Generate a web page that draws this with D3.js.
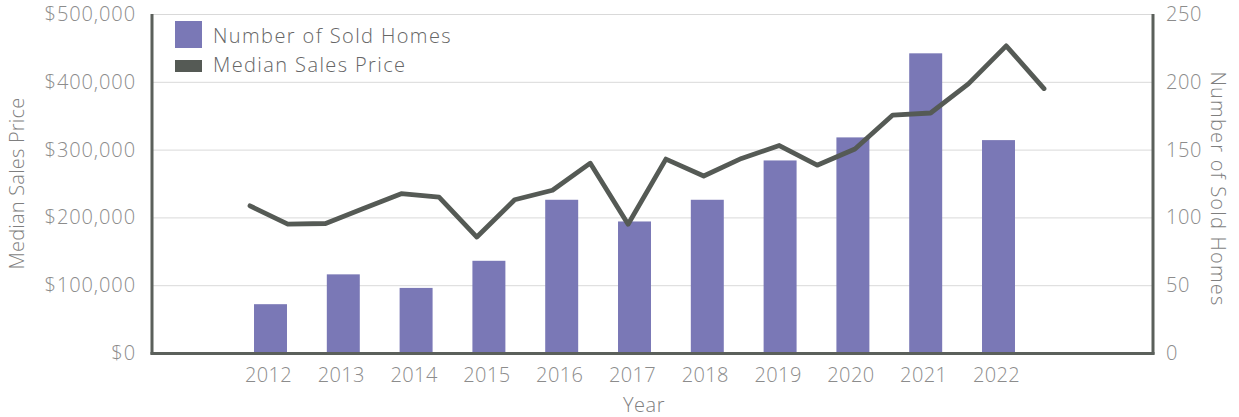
<!DOCTYPE html>
<html>
<head>
<meta charset="utf-8">
<script src="https://cdn.jsdelivr.net/npm/d3@7"></script>
<style>
  html, body { margin: 0; padding: 0; background: #fff; }
  svg { display: block; font-family: "Open Sans", "Lato", sans-serif; font-weight: 300; }
</style>
</head>
<body>
<svg id="chart" width="1239" height="417"></svg>
<script>
// ---- data ----
const years = ["2012","2013","2014","2015","2016","2017","2018","2019","2020","2021","2022"];
const soldHomes = [36, 58, 48, 68, 113, 97, 113, 142, 159, 221, 157];
const periods = ["2012 H1","2012 H2","2013 H1","2013 H2","2014 H1","2014 H2","2015 H1","2015 H2",
  "2016 H1","2016 H2","2017 H1","2017 H2","2018 H1","2018 H2","2019 H1","2019 H2",
  "2020 H1","2020 H2","2021 H1","2021 H2","2022 H1","2022 H2"];
const medianPrice = [217000, 190000, 191000, 213000, 235000, 230000, 171000, 226000,
  240000, 280000, 190000, 286000, 261000, 287000, 306000, 277000,
  301000, 351000, 354000, 397000, 453000, 390000];
const priceTicks = [0, 100000, 200000, 300000, 400000, 500000];
const homesTicks = [0, 50, 100, 150, 200, 250];
const legendLabels = ["Number of Sold Homes", "Median Sales Price"];

// ---- layout ----
const L = 152, R = 1153, T = 14, B = 353;
const barColor = "#7a78b6", lineColor = "#555a55", axisColor = "#5b605b";
const svg = d3.select("#chart");

const yL = d3.scaleLinear().domain([0, 500000]).range([B, T]);
const yR = d3.scaleLinear().domain([0, 250]).range([B, T]);
const xBar = d3.scaleBand().domain(years).range([234.1, 1034.9]).paddingInner(0.547).paddingOuter(0.2735);
const xLine = d3.scalePoint().domain(periods).range([250, 1044]);

// gridlines
svg.append("g").selectAll("line").data(priceTicks.slice(1)).join("line")
  .attr("x1", L).attr("x2", R)
  .attr("y1", d => yL(d) + 0.5).attr("y2", d => yL(d) + 0.5)
  .attr("stroke", "#d9d9d9").attr("stroke-width", 1);

// bars
svg.append("g").selectAll("rect").data(years).join("rect")
  .attr("x", d => xBar(d))
  .attr("width", xBar.bandwidth())
  .attr("y", (d, i) => yR(soldHomes[i]))
  .attr("height", (d, i) => B - yR(soldHomes[i]))
  .attr("fill", barColor);

// line
const line = d3.line().x((d, i) => xLine(periods[i])).y(d => yL(d));
svg.append("path").datum(medianPrice)
  .attr("d", line).attr("fill", "none")
  .attr("stroke", lineColor).attr("stroke-width", 4.8)
  .attr("stroke-linejoin", "round").attr("stroke-linecap", "round");

// axes
const fmt = d3.format("$,");
const leftAxis = d3.axisLeft(yL).tickValues(priceTicks).tickFormat(fmt).tickSize(0).tickPadding(15);
const rightAxis = d3.axisRight(yR).tickValues(homesTicks).tickSize(0).tickPadding(12);
const bottomAxis = d3.axisBottom(xBar).tickSize(0).tickPadding(14);

function styleAxis(ls) {
  return g => {
    g.select(".domain").remove();
    g.selectAll("text").attr("fill", "#8c8c8c").style("font-size", "20px")
      .style("letter-spacing", ls + "px")
      .style("font-family", '"Open Sans", "Lato", sans-serif').style("font-weight", 300);
  };
}
svg.append("g").attr("transform", `translate(${L - 1},0)`).call(leftAxis).call(styleAxis(0.9));
svg.append("g").attr("transform", `translate(${R + 1},0)`).call(rightAxis).call(styleAxis(0.6));
svg.append("g").attr("transform", `translate(-2,${B + 1})`).call(bottomAxis).call(styleAxis(0.4));

// axis lines
svg.append("line").attr("x1", L).attr("x2", L).attr("y1", T).attr("y2", B + 1.5)
  .attr("stroke", axisColor).attr("stroke-width", 3);
svg.append("line").attr("x1", R).attr("x2", R).attr("y1", T).attr("y2", B + 1.5)
  .attr("stroke", axisColor).attr("stroke-width", 3);
svg.append("line").attr("x1", L - 1.5).attr("x2", R + 1.5).attr("y1", B + 0.5).attr("y2", B + 0.5)
  .attr("stroke", axisColor).attr("stroke-width", 3);

// axis titles
const titleStyle = ls => s => s.attr("fill", "#7f7f7f").style("font-size", "20px")
  .style("letter-spacing", ls + "px").attr("text-anchor", "middle");
svg.append("text").attr("transform", `translate(24,${(T + B) / 2}) rotate(-90)`)
  .text("Median Sales Price").call(titleStyle(0.2));
svg.append("text").attr("transform", `translate(1211,189) rotate(90)`)
  .text("Number of Sold Homes").call(titleStyle(1.2));
svg.append("text").attr("x", 644).attr("y", 412).text("Year").call(titleStyle(0.5));

// legend
const lg = svg.append("g");
lg.append("rect").attr("x", 175).attr("y", 21).attr("width", 27).attr("height", 27).attr("fill", barColor);
lg.append("rect").attr("x", 175).attr("y", 60).attr("width", 27).attr("height", 12).attr("fill", lineColor);
lg.selectAll("text").data(legendLabels).join("text")
  .attr("x", 213).attr("y", (d, i) => 43 + i * 28.5)
  .attr("fill", "#666").style("font-size", "20px").style("letter-spacing", "1.4px").text(d => d);
</script>
</body>
</html>
